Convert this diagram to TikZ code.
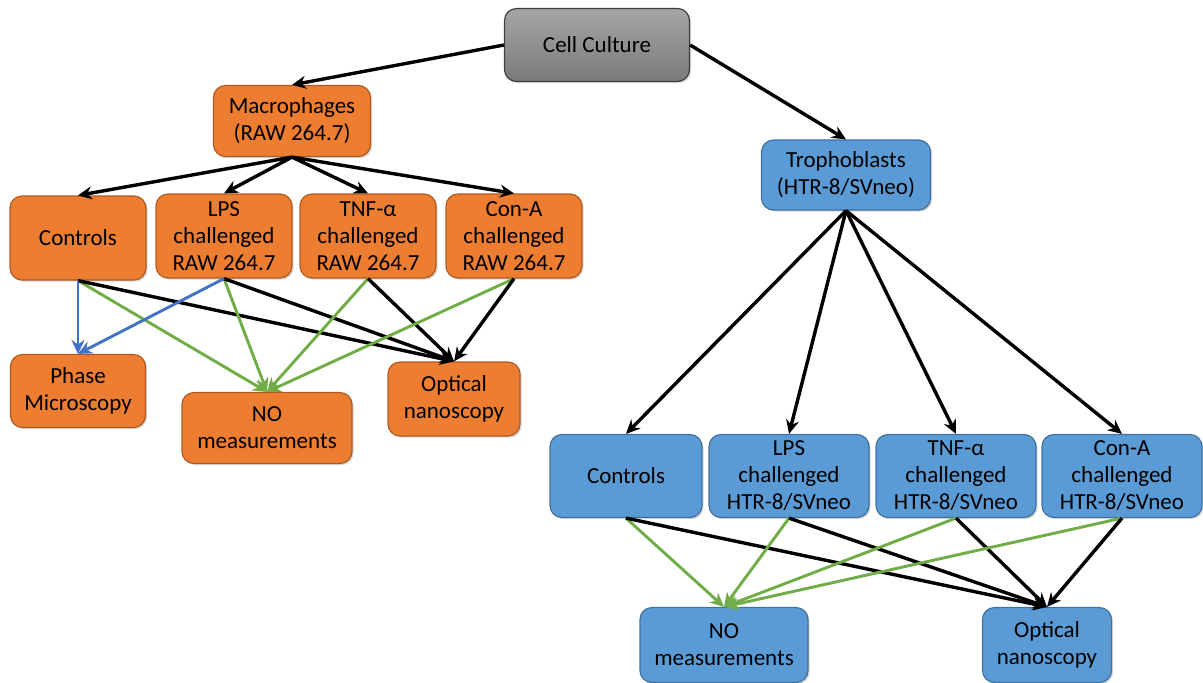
\documentclass[tikz,border=0pt]{standalone}
\usepackage{fontspec}
\setmainfont{Carlito}
\usetikzlibrary{arrows.meta, shadows}
\definecolor{orgF}{HTML}{ED7D31}
\definecolor{orgD}{HTML}{AE5A21}
\definecolor{bluF}{HTML}{5B9BD5}
\definecolor{bluD}{HTML}{41719C}
\definecolor{grayT}{HTML}{A6A6A6}
\definecolor{grayB}{HTML}{7A7A7A}
\definecolor{grayD}{HTML}{3F3F3F}
\definecolor{linkG}{HTML}{70AD47}
\definecolor{linkB}{HTML}{4472C4}
\tikzset{
  box/.style   ={rounded corners=6pt, line width=0.6pt, align=center,
                 inner sep=2pt, font=\fontsize{11.5}{13.5}\selectfont,
                 drop shadow={shadow xshift=0.8pt, shadow yshift=-0.8pt,
                              opacity=0.3}},
  Lroot/.style ={box, draw=grayD, top color=grayT, bottom color=grayB,
                 minimum width=92.5pt, minimum height=36.5pt},
  Lmac/.style  ={box, draw=orgD, fill=orgF},
  Ltro/.style  ={box, draw=bluD, fill=bluF},
  Mrow/.style  ={Lmac, minimum width=68pt, minimum height=42pt},
  Trow/.style  ={Ltro, minimum width=80pt, minimum height=41.5pt},
  flow/.style  ={-{Stealth[length=7pt, width=6.5pt]}, black, line width=1.7pt},
  toNO/.style  ={flow, linkG, line width=1.45pt},
  toPM/.style  ={flow, linkB, line width=1.45pt},
}

\begin{document}
\begin{tikzpicture}[x=0.5pt, y=-0.5pt]
\useasboundingbox (0,0) rectangle (1203,682);

% Root
\node[Lroot] (CC) at (597,45) {Cell Culture};

% Macrophage branch
\node[Lmac, minimum width=78.5pt, minimum height=35.5pt] (MAC)
  at (292,121) {Macrophages\\(RAW 264.7)};
\node[Mrow] (mC) at (78,238) {Controls};
\foreach \n/\x/\t in {mL/224/LPS, mT/368/TNF-α, mA/514/Con-A}
  \node[Mrow] (\n) at (\x,236) {\t\\challenged\\RAW 264.7};

\node[Lmac, minimum width=67.5pt, minimum height=36.5pt] (mPM)
  at (78,391) {Phase\\Microscopy};
\node[Lmac, minimum width=85pt, minimum height=35.5pt] (mNO)
  at (267,428) {NO\\measurements};
\node[Lmac, minimum width=66pt, minimum height=37pt] (mOP)
  at (454,399) {Optical\\nanoscopy};

% Trophoblast branch
\node[Ltro, minimum width=84.5pt, minimum height=35pt] (TRO)
  at (846,175) {Trophoblasts\\(HTR-8/SVneo)};
\node[Trow, minimum width=76pt] (bC) at (626,476) {Controls};
\foreach \n/\x/\t in {bL/789/LPS, bT/956/TNF-α, bA/1122/Con-A}
  \node[Trow] (\n) at (\x,476) {\t\\challenged\\HTR-8/SVneo};

\node[Ltro, minimum width=84pt, minimum height=37.5pt] (bNO)
  at (724,645) {NO\\measurements};
\node[Ltro, minimum width=64.5pt, minimum height=37.5pt] (bOP)
  at (1047,645) {Optical\\nanoscopy};

% Links
\draw[flow] (CC.west) -- (MAC.north);
\draw[flow] (CC.east) -- (TRO.north);

\foreach \s in {mC, mL, mT, mA} {
  \draw[flow] (MAC.south) -- (\s.north);
  \draw[toNO] (\s.south) -- (mNO.north);
  \draw[flow] (\s.south) -- (mOP.north);
}
\draw[toPM] (mC.south) -- (mPM.north);
\draw[toPM] (mL.south) -- (mPM.north);

\foreach \s in {bC, bL, bT, bA} {
  \draw[flow] (TRO.south) -- (\s.north);
  \draw[toNO] (\s.south) -- (bNO.north);
  \draw[flow] (\s.south) -- (bOP.north);
}

\end{tikzpicture}
\end{document}
